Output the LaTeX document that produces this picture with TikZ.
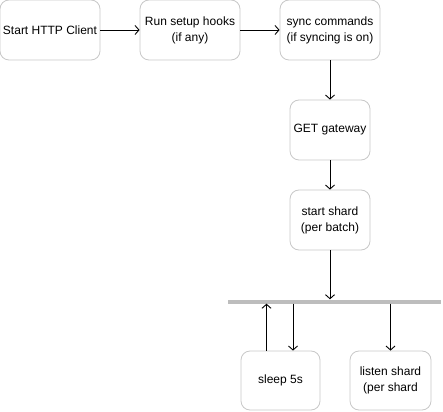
\documentclass[tikz,border=0pt]{standalone}
\usepackage{fontspec}
\setmainfont{Liberation Sans}
\usetikzlibrary{arrows.meta}
\definecolor{boxline}{HTML}{C8C8C8}
\definecolor{barcol}{HTML}{BDBDBD}
\begin{document}
\begin{tikzpicture}[x=1pt,y=-1pt,
  flowbox/.style={draw=boxline, line width=0.8pt, rounded corners=9pt, fill=white,
    minimum width=100pt, minimum height=60pt, inner sep=0pt, align=center,
    font=\fontsize{12}{16}\selectfont},
  arr/.style={line width=0.9pt, -{Straight Barb[length=4pt,width=9pt,line width=0.9pt]}}]
\useasboundingbox (0,0) rectangle (443,411);
\node[flowbox] (b1) at (50,30) {Start HTTP Client};
\node[flowbox] (b2) at (190,30) {Run setup hooks\\(if any)};
\node[flowbox] (b3) at (330,30) {sync commands\\(if syncing is on)};
\node[flowbox, minimum width=80pt] (b4) at (330,130) {GET gateway};
\node[flowbox, minimum width=80pt] (b5) at (330,220) {start shard\\(per batch)};
\node[fill=barcol, minimum width=213pt, minimum height=4pt, inner sep=0pt] (bar) at (334.5,301.5) {};
\node[flowbox, minimum width=79pt, minimum height=59pt] (sleep) at (280.5,380.5) {sleep 5s};
\node[flowbox, minimum width=81pt, minimum height=59pt] (listen) at (390.5,380.5) {listen shard\\(per shard};
\draw[arr] (b1) -- (b2);
\draw[arr] (b2) -- (b3);
\draw[arr] (b3) -- (b4);
\draw[arr] (b4) -- (b5);
\draw[arr] (b5) -- (b5 |- bar.north);
\draw[arr] ([xshift=-14pt]sleep.north) -- ([xshift=-14pt]sleep.north |- bar.south);
\draw[arr] ([xshift=12.5pt]sleep.north |- bar.south) -- ([xshift=12.5pt]sleep.north);
\draw[arr] (listen.north |- bar.south) -- (listen.north);
\end{tikzpicture}
\end{document}
